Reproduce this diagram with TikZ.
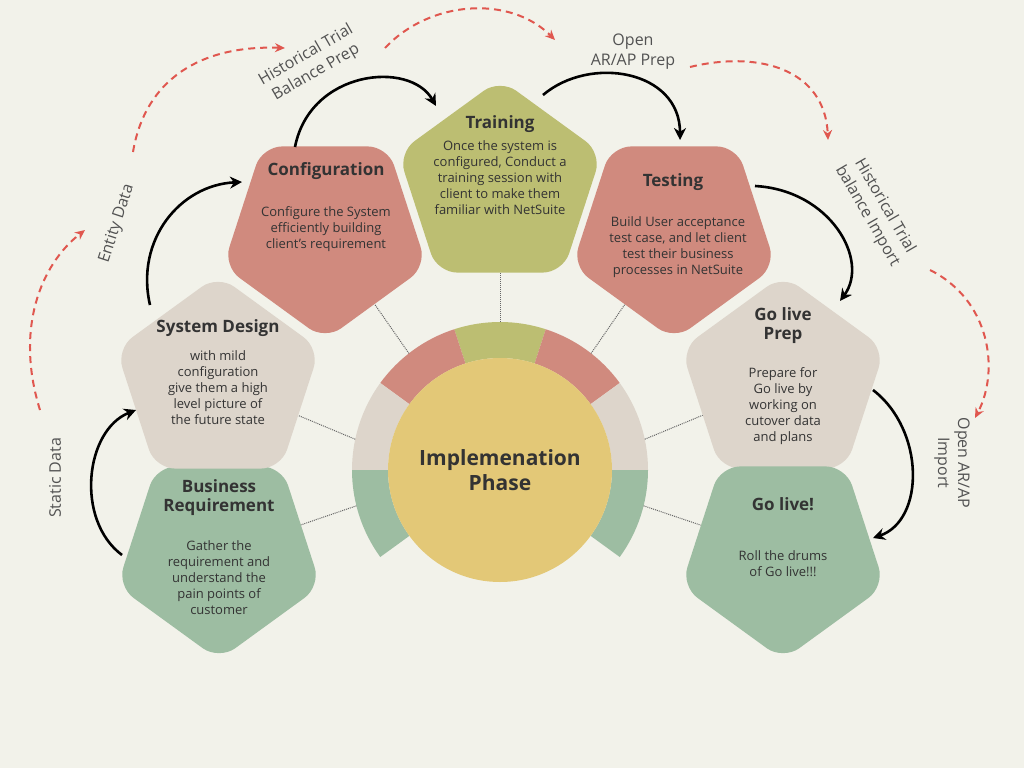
\documentclass[tikz,border=0pt]{standalone}
\usepackage{fontspec}
\setmainfont{Open Sans}
\usetikzlibrary{shapes.geometric,calc,arrows.meta}
\definecolor{bg}{HTML}{F2F2EA}
\definecolor{cred}{HTML}{D08A7E}
\definecolor{colive}{HTML}{BCBE72}
\definecolor{cbeige}{HTML}{DDD5CB}
\definecolor{cgreen}{HTML}{9DBDA2}
\definecolor{cyel}{HTML}{E3C877}
\definecolor{txt}{HTML}{333333}
\definecolor{dred}{HTML}{E0574F}
\begin{document}
\begin{tikzpicture}[x=1pt,y=-1pt,
 pent/.style={regular polygon,regular polygon sides=5,minimum size=214pt,inner sep=0pt,rounded corners=20pt,draw=none},
 down/.style={shape border rotate=180},
 ttl/.style={font=\fontsize{17}{19}\selectfont\bfseries,text=txt,align=center},
 body/.style={font=\fontsize{13}{16}\selectfont,text=txt,align=center},
 lab/.style={font=\fontsize{16}{20}\selectfont,text=txt!85,align=center},
 blk/.style={line width=2.6pt,-{Stealth[length=12pt,width=12pt]}},
 rdash/.style={dred,line width=2pt,dash pattern=on 7pt off 5pt,-{Stealth[length=10pt,width=9pt]}},
 dot/.style={densely dotted,line width=1pt,black!60}]
\fill[bg] (0,0) rectangle (1024,768);
\useasboundingbox (0,0) rectangle (1024,768);
% centre ring
\coordinate (c) at (500,470);
\foreach \a/\b/\col in {72/108/colive,108/144/cred,36/72/cred,144/180/cbeige,0/36/cbeige,180/216/cgreen,-36/0/cgreen}
 \fill[\col] ($(c)+(-\a:112)$) arc[start angle=-\a,end angle=-\b,radius=112] -- ($(c)+(-\b:148)$) arc[start angle=-\b,end angle=-\a,radius=148] -- cycle;
% pentagons
\node[pent,down,fill=cgreen] (br) at (219,553) {};
\node[pent,fill=cbeige] (sd) at (218,382) {};
\node[pent,down,fill=cred] (cf) at (325,233) {};
\node[pent,fill=colive] (tr) at (500,186) {};
\node[pent,down,fill=cred] (ts) at (674,233) {};
\node[pent,fill=cbeige] (gp) at (783,382) {};
\node[pent,down,fill=cgreen] (gl) at (783,553) {};
% dotted connectors
\foreach \n/\a in {br/-194,sd/-168,cf/-128,tr/-90,ts/-52,gp/-12,gl/14}{
 \coordinate (r\n) at ($(c)+(\a:148)$);
 \draw[dot] (r\n) -- (\n);}
\fill[cyel] (c) circle (112);
\node[font=\fontsize{21}{25}\selectfont\bfseries,text=txt,align=center] (ctr) at (500,470) {Implemenation\\Phase};
% texts
\node[ttl] (t1) at (219,498) {Business\\Requirement};
\node[body] (b1) at (219,578) {Gather the\\requirement and\\understand the\\pain points of\\customer};
\node[ttl] (t2) at (218,328) {System Design};
\node[body] (b2) at (218,388) {with mild\\configuration\\give them a high\\level picture of\\the future state};
\node[ttl] (t3) at (326,171) {Configuration};
\node[body] (b3) at (326,229) {Configure the System\\efficiently building\\client's requirement};
\node[ttl] (t4) at (500,124) {Training};
\node[body] (b4) at (500,178) {Once the system is\\configured, Conduct a\\training session with\\client to make them\\familiar with NetSuite};
\node[ttl] (t5) at (673,182) {Testing};
\node[body] (b5) at (678,247) {Build User acceptance\\test case, and let client\\test their business\\processes in NetSuite};
\node[ttl] (t6) at (783,326) {Go live\\Prep};
\node[body] (b6) at (783,406) {Prepare for\\Go live by\\working on\\cutover data\\and plans};
\node[ttl] (t7) at (783,504) {Go live!};
\node[body] (b7) at (783,564) {Roll the drums\\of Go live!!!};
% black arrows
\coordinate (a1s) at (122,555); \coordinate (a1e) at (136,410);
\draw[blk] (a1s) .. controls (75,520) and (85,430) .. (a1e);
\coordinate (a2s) at (150,305); \coordinate (a2e) at (242,182);
\draw[blk] (a2s) .. controls (135,240) and (180,185) .. (a2e);
\coordinate (a3s) at (295,147); \coordinate (a3e) at (436,106);
\draw[blk] (a3s) .. controls (310,70) and (410,60) .. (a3e);
\coordinate (a4s) at (543,95); \coordinate (a4e) at (680,140);
\draw[blk] (a4s) .. controls (590,55) and (680,70) .. (a4e);
\coordinate (a5s) at (755,186); \coordinate (a5e) at (840,301);
\draw[blk] (a5s) .. controls (830,190) and (870,260) .. (a5e);
\coordinate (a6s) at (873,390); \coordinate (a6e) at (873,538);
\draw[blk] (a6s) .. controls (925,430) and (925,520) .. (a6e);
% red dashed arrows
\coordinate (r1s) at (40,410); \coordinate (r1e) at (85,230);
\draw[rdash] (r1s) .. controls (15,330) and (40,265) .. (r1e);
\coordinate (r2s) at (133,152); \coordinate (r2e) at (285,48);
\draw[rdash] (r2s) .. controls (145,80) and (200,45) .. (r2e);
\coordinate (r3s) at (385,48); \coordinate (r3e) at (555,40);
\draw[rdash] (r3s) .. controls (430,0) and (510,-5) .. (r3e);
\coordinate (r4s) at (690,67); \coordinate (r4e) at (828,140);
\draw[rdash] (r4s) .. controls (760,50) and (825,70) .. (r4e);
\coordinate (r5s) at (930,270); \coordinate (r5e) at (975,418);
\draw[rdash] (r5s) .. controls (990,300) and (1000,370) .. (r5e);
% labels
\node[lab,rotate=90] (l1) at (55,478) {Static Data};
\node[lab,rotate=72] (l2) at (117,224) {Entity Data};
\node[lab,rotate=30] (l3) at (311,64) {Historical Trial\\Balance Prep};
\node[lab] (l4) at (633,52) {Open\\AR/AP Prep};
\node[lab,rotate=-60] (l5) at (876,211) {Historical Trial\\balance Import};
\node[lab,rotate=-90] (l6) at (952,463) {Open AR/AP\\Import};
\end{tikzpicture}
\end{document}
